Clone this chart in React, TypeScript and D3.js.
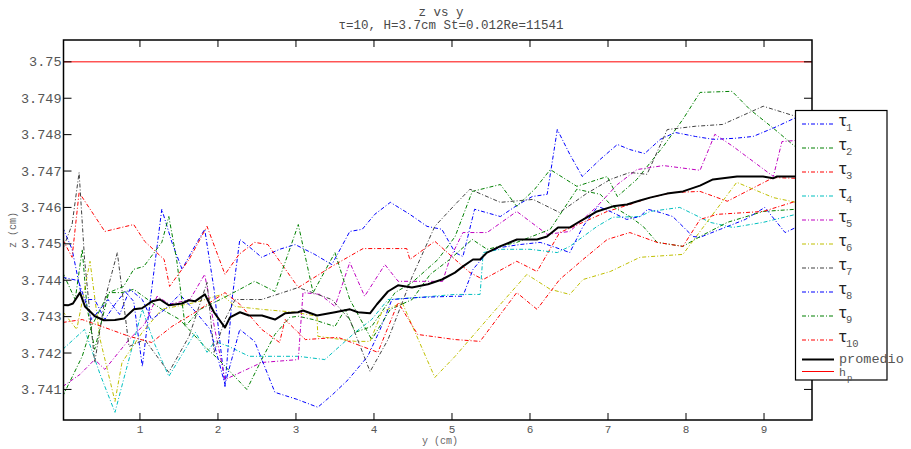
import React from "react";
import * as d3 from "d3";

type Pt = [number, number];

// tau_1 .. tau_10 : z (cm) against y (cm)
const tau1: Pt[] = [[0.01,3.74545],[0.13,3.74485],[0.26,3.74347],[0.42,3.74347],[0.55,3.74292],[0.68,3.74334],[0.81,3.74369],[0.92,3.74342],[1.03,3.74163],[1.15,3.74375],[1.28,3.74595],[1.41,3.74504],[1.54,3.7443],[1.68,3.74485],[1.83,3.7454],[1.95,3.74375],[2.09,3.74108],[2.18,3.74347],[2.28,3.74512],[2.41,3.7449],[2.56,3.74463],[2.79,3.74485],[2.99,3.74498],[3.24,3.74471],[3.46,3.74443],[3.69,3.74534],[3.85,3.7454],[4.01,3.74581],[4.21,3.74614],[4.46,3.74581],[4.68,3.74548],[4.87,3.7454],[5.04,3.74476],[5.14,3.74465],[5.29,3.74595],[5.62,3.74575],[5.85,3.74608],[6.03,3.7463],[6.22,3.74636],[6.35,3.74814],[6.51,3.74746],[6.67,3.74685],[6.9,3.74732],[7.12,3.74773],[7.28,3.74759],[7.47,3.74748],[7.67,3.74787],[7.86,3.74806],[8.12,3.74795],[8.35,3.74787],[8.63,3.7479],[8.86,3.74795],[9.14,3.7482],[9.41,3.74847],[9.62,3.74864]];
const tau2: Pt[] = [[0.01,3.74421],[0.17,3.74347],[0.26,3.74485],[0.32,3.74328],[0.42,3.7421],[0.6,3.74366],[0.77,3.74366],[0.92,3.74375],[1.1,3.74347],[1.28,3.7432],[1.51,3.74292],[1.83,3.74218],[2.01,3.74182],[2.19,3.74141],[2.37,3.741],[2.56,3.74182],[2.73,3.74251],[2.92,3.74298],[3.03,3.74301],[3.22,3.74292],[3.5,3.74273],[3.63,3.7432],[3.76,3.74257],[3.97,3.74273],[4.27,3.74366],[4.49,3.74394],[4.82,3.74457],[5.04,3.7452],[5.26,3.74644],[5.62,3.74663],[5.83,3.74603],[6.06,3.7465],[6.26,3.74704],[6.6,3.74658],[6.99,3.74685],[7.12,3.7463],[7.37,3.74677],[7.71,3.74768],[7.96,3.74842],[8.18,3.74916],[8.59,3.74919],[8.82,3.74869],[9.14,3.74814],[9.41,3.74765],[9.62,3.74746]];
const tau3: Pt[] = [[0.01,3.74512],[0.13,3.74463],[0.22,3.74641],[0.55,3.74534],[0.92,3.74553],[1.06,3.74507],[1.31,3.74457],[1.38,3.74383],[1.63,3.74457],[1.86,3.74548],[2.09,3.74416],[2.27,3.74471],[2.47,3.74504],[2.64,3.74498],[3.03,3.7438],[3.46,3.74438],[3.86,3.74487],[4.42,3.74487],[4.46,3.74457],[4.78,3.74507],[5.04,3.74457],[5.23,3.74421],[5.4,3.74402],[5.83,3.74452],[6.09,3.74424],[6.38,3.74531],[6.68,3.74559],[6.99,3.74589],[7.28,3.74608],[7.54,3.74627],[7.83,3.74641],[8.18,3.74644],[8.53,3.74617],[9.12,3.74682],[9.41,3.7468],[9.62,3.74677]];
const tau4: Pt[] = [[0.01,3.7421],[0.29,3.74265],[0.49,3.74141],[0.68,3.74037],[0.79,3.74127],[1.03,3.7432],[1.19,3.74224],[1.37,3.74136],[1.54,3.74196],[1.71,3.74257],[1.86,3.74202],[1.96,3.74232],[2.14,3.74218],[2.4,3.74191],[2.56,3.74191],[3.03,3.74191],[3.37,3.74182],[3.76,3.74257],[3.97,3.74292],[4.18,3.74347],[4.59,3.74353],[5.04,3.74361],[5.36,3.74361],[5.4,3.74476],[5.62,3.74485],[6.0,3.74485],[6.35,3.74476],[6.51,3.74493],[6.86,3.74548],[7.06,3.74573],[7.41,3.74575],[7.54,3.74589],[7.92,3.746],[8.31,3.74559],[8.6,3.74545],[8.99,3.74559],[9.41,3.74581],[9.62,3.74589]];
const tau5: Pt[] = [[0.01,3.74108],[0.23,3.74141],[0.42,3.74182],[0.55,3.74155],[0.86,3.74237],[1.06,3.74279],[1.22,3.74356],[1.38,3.74334],[1.64,3.74347],[1.83,3.74416],[1.96,3.74265],[2.09,3.74127],[2.56,3.74174],[3.03,3.74182],[3.09,3.74366],[3.31,3.74361],[3.5,3.74328],[3.69,3.74449],[3.88,3.74356],[4.14,3.74443],[4.31,3.74397],[4.88,3.74397],[4.97,3.74457],[5.14,3.74531],[5.45,3.74531],[5.83,3.74589],[6.22,3.74526],[6.51,3.74534],[6.86,3.74603],[7.12,3.74663],[7.37,3.74704],[7.71,3.74715],[8.18,3.74702],[8.37,3.74801],[8.6,3.74768],[9.12,3.74685],[9.23,3.74781],[9.41,3.74784],[9.62,3.74787]];
const tau6: Pt[] = [[0.01,3.74314],[0.19,3.74265],[0.36,3.74452],[0.49,3.74237],[0.68,3.74067],[0.77,3.74174],[1.03,3.74257],[1.28,3.7432],[1.71,3.74339],[2.05,3.74361],[2.22,3.74328],[2.56,3.7432],[2.99,3.74312],[3.27,3.74301],[3.28,3.74246],[3.76,3.74232],[3.95,3.74232],[4.1,3.74312],[4.36,3.74339],[4.78,3.74133],[5.04,3.74191],[5.53,3.74312],[5.96,3.74416],[6.26,3.74375],[6.51,3.74361],[6.68,3.74402],[7.03,3.74424],[7.41,3.74463],[7.96,3.74471],[8.65,3.74669],[9.12,3.74627],[9.41,3.74614],[9.62,3.74605]];
const tau7: Pt[] = [[0.01,3.74485],[0.13,3.74553],[0.22,3.74696],[0.29,3.74457],[0.42,3.74174],[0.55,3.74347],[0.71,3.74476],[0.86,3.74218],[1.06,3.74237],[1.37,3.74147],[1.63,3.74246],[1.86,3.74394],[1.95,3.74202],[2.09,3.74292],[2.22,3.74347],[2.56,3.74347],[3.03,3.7438],[3.46,3.74347],[3.69,3.74292],[3.95,3.74149],[4.18,3.74237],[4.49,3.7441],[4.78,3.74548],[5.04,3.74608],[5.23,3.7465],[5.62,3.74614],[6.04,3.74622],[6.38,3.74586],[6.71,3.74636],[7.03,3.74677],[7.28,3.74696],[7.5,3.74691],[7.76,3.74814],[8.12,3.74823],[8.47,3.74828],[8.99,3.74878],[9.41,3.7485],[9.62,3.74842]];
const tau8: Pt[] = [[0.01,3.74408],[0.21,3.74399],[0.38,3.74292],[0.59,3.74347],[0.74,3.74306],[0.87,3.74375],[1.03,3.74347],[1.15,3.74292],[1.32,3.7432],[1.51,3.74361],[1.71,3.74314],[1.9,3.74265],[2.09,3.74114],[2.28,3.74265],[2.47,3.74232],[2.73,3.74092],[3.01,3.74073],[3.28,3.74051],[3.47,3.74086],[3.67,3.74127],[3.92,3.74191],[4.08,3.74265],[4.23,3.74347],[4.59,3.74353],[5.04,3.74356],[5.14,3.74356],[5.27,3.7443],[5.45,3.74476],[5.62,3.7449],[5.87,3.74498],[6.13,3.74504],[6.29,3.74493],[6.51,3.74476],[6.68,3.74548],[6.87,3.74603],[7.06,3.74586],[7.24,3.74567],[7.41,3.74575],[7.51,3.74595],[7.67,3.74586],[7.83,3.74575],[8.09,3.7452],[8.18,3.74518],[8.44,3.7454],[8.76,3.74567],[9.01,3.746],[9.27,3.74531],[9.41,3.74545],[9.62,3.74562]];
const tau9: Pt[] = [[0.01,3.74081],[0.26,3.74191],[0.38,3.74273],[0.6,3.74366],[0.79,3.74383],[0.92,3.7443],[1.05,3.74438],[1.28,3.74504],[1.37,3.74575],[1.47,3.74457],[1.58,3.74273],[1.77,3.7432],[2.03,3.74347],[2.28,3.74375],[2.47,3.74397],[2.73,3.74369],[3.03,3.74553],[3.22,3.74366],[3.5,3.74476],[3.69,3.74347],[3.97,3.74237],[4.21,3.7432],[4.49,3.74347],[4.72,3.74416],[4.97,3.74457],[5.26,3.74512],[5.45,3.74485],[5.83,3.74504],[6.26,3.7454],[6.6,3.7465],[6.9,3.74636],[7.06,3.74603],[7.28,3.74575],[7.45,3.74548],[7.63,3.74504],[7.96,3.74493],[8.18,3.7452],[8.53,3.74559],[8.99,3.74589],[9.41,3.74595],[9.62,3.746]];
const tau10: Pt[] = [[0.01,3.74284],[0.26,3.74292],[0.55,3.7427],[0.86,3.74246],[1.15,3.74229],[1.41,3.74273],[1.71,3.74312],[2.09,3.74366],[2.28,3.74334],[2.56,3.74265],[2.79,3.74229],[2.86,3.74292],[3.12,3.74237],[3.54,3.74243],[4.05,3.74202],[4.31,3.74339],[4.56,3.74251],[5.04,3.74237],[5.36,3.74232],[5.83,3.74366],[6.09,3.7432],[6.38,3.74402],[6.68,3.74457],[6.99,3.74512],[7.28,3.74531],[7.63,3.74504],[7.96,3.74493],[8.18,3.74567],[8.4,3.74581],[8.99,3.74589],[9.41,3.74617],[9.62,3.74627]];

// mean profile
const promedio: Pt[] = [[0.013,3.74332],[0.077,3.74331],[0.141,3.74336],[0.231,3.74366],[0.295,3.74328],[0.423,3.74301],[0.538,3.7429],[0.679,3.74291],[0.795,3.74295],[0.923,3.7432],[1.026,3.74323],[1.154,3.74342],[1.256,3.74347],[1.372,3.74331],[1.538,3.74336],[1.628,3.74345],[1.705,3.74342],[1.833,3.74361],[1.949,3.74312],[2.09,3.7427],[2.154,3.74298],[2.282,3.74312],[2.397,3.74303],[2.564,3.74303],[2.731,3.74292],[2.859,3.74309],[3.026,3.74312],[3.09,3.74317],[3.269,3.74303],[3.5,3.74312],[3.692,3.7432],[3.795,3.74312],[3.949,3.74309],[4.038,3.74334],[4.179,3.74369],[4.308,3.74386],[4.487,3.7438],[4.692,3.74389],[4.872,3.74402],[5.038,3.74421],[5.141,3.74438],[5.269,3.74457],[5.359,3.74457],[5.449,3.74476],[5.615,3.74493],[5.833,3.74512],[6.09,3.74512],[6.218,3.7452],[6.359,3.74545],[6.513,3.74545],[6.641,3.74562],[6.859,3.74589],[7.064,3.74603],[7.244,3.74608],[7.41,3.74619],[7.538,3.74627],[7.756,3.74638],[7.962,3.74644],[8.179,3.7466],[8.346,3.74677],[8.474,3.7468],[8.654,3.74685],[8.987,3.74685],[9.115,3.7468],[9.167,3.74685],[9.615,3.74685]];

const hp = 3.75;

const xTicks = [1, 2, 3, 4, 5, 6, 7, 8, 9];
const yTicks = [3.741, 3.742, 3.743, 3.744, 3.745, 3.746, 3.747, 3.748, 3.749, 3.75];
const tauLabels = ["1", "2", "3", "4", "5", "6", "7", "8", "9", "10"];
const titleText = "z vs y";
const subtitleText = "τ=10, H=3.7cm St=0.012Re=11541";

const taus = [tau1, tau2, tau3, tau4, tau5, tau6, tau7, tau8, tau9, tau10];
const tauColors = ["#0000ff", "#008000", "#ff0000", "#00bfbf", "#bf00bf", "#bfbf00", "#404040", "#0000ff", "#008000", "#ff0000"];

const W = 911;
const H = 449;
const box = { left: 63.5, right: 812, top: 40, bottom: 420 };
const mono = "'Liberation Mono', 'DejaVu Sans Mono', monospace";
const dash = "4,2,1,2";

export default function App() {
  const x = d3.scaleLinear().domain([0.02, 9.615]).range([box.left, box.right]);
  const y = d3.scaleLinear().domain([3.74016, 3.7506]).range([box.bottom, box.top]);
  const line = d3.line<Pt>().x(d => x(d[0])).y(d => y(d[1]));

  const leg = { left: 795.5, top: 110.5, width: 91.5, height: 269.5 };
  const rowY = (i: number) => 124 + i * 24;

  return (
    <svg width={W} height={H} style={{ position: "absolute", left: 0, top: 0, background: "#fff" }}>
      <rect x={0} y={0} width={W} height={H} fill="#fff" />
      <defs>
        <clipPath id="plotclip">
          <rect x={box.left} y={box.top} width={box.right - box.left} height={box.bottom - box.top} />
        </clipPath>
      </defs>

      <text x={441} y={16} textAnchor="middle" fontFamily={mono} fontSize={12.5} fill="#4a4a4a">{titleText}</text>
      <text x={451} y={29} textAnchor="middle" fontFamily={mono} fontSize={12.5} fill="#4a4a4a">{subtitleText}</text>

      <g clipPath="url(#plotclip)">
        {taus.map((d, i) => (
          <path key={i} d={line(d) || ""} fill="none" stroke={tauColors[i]} strokeWidth={1} strokeDasharray={dash} />
        ))}
        <path d={line(promedio) || ""} fill="none" stroke="#000" strokeWidth={2} strokeLinejoin="round" />
        <line x1={box.left} x2={box.right} y1={y(hp)} y2={y(hp)} stroke="#ff0000" strokeWidth={1} />
      </g>

      {/* ticks */}
      {yTicks.map(t => (
        <g key={"y" + t}>
          <line x1={box.left} x2={box.left + 8} y1={y(t)} y2={y(t)} stroke="#000" />
          <line x1={box.right - 8} x2={box.right} y1={y(t)} y2={y(t)} stroke="#000" />
          <text x={61.5} y={y(t) + 4.5} textAnchor="end" fontFamily={mono} fontSize={13.5} fill="#555">{String(+t.toFixed(3))}</text>
        </g>
      ))}
      {xTicks.map(t => (
        <g key={"x" + t}>
          <line x1={x(t)} x2={x(t)} y1={box.bottom} y2={box.bottom - 7} stroke="#000" />
          <line x1={x(t)} x2={x(t)} y1={box.top} y2={box.top + 7} stroke="#000" />
          <text x={x(t)} y={433} textAnchor="middle" fontFamily={mono} fontSize={11} fill="#555">{t}</text>
        </g>
      ))}
      <rect x={box.left} y={box.top} width={box.right - box.left} height={box.bottom - box.top} fill="none" stroke="#000" strokeWidth={1.5} />

      <text x={440} y={444} textAnchor="middle" fontFamily={mono} fontSize={10} fill="#666">y (cm)</text>
      <text transform={`translate(16,230) rotate(-90)`} textAnchor="middle" fontFamily={mono} fontSize={10} fill="#666">z (cm)</text>

      {/* legend */}
      <rect x={leg.left} y={leg.top} width={leg.width} height={leg.height} fill="#fff" stroke="#000" strokeWidth={1.2} />
      {tauLabels.map((lab, i) => (
        <g key={"l" + lab}>
          <line x1={802} x2={834} y1={rowY(i)} y2={rowY(i)} stroke={tauColors[i]} strokeWidth={1.2} strokeDasharray={dash} />
          <text x={838} y={rowY(i) + 2} fontFamily={mono} fontSize={16} fill="#222">τ</text>
          <text x={846} y={rowY(i) + 7} fontFamily={mono} fontSize={10.5} fill="#555">{lab}</text>
        </g>
      ))}
      <line x1={802} x2={834} y1={359.5} y2={359.5} stroke="#000" strokeWidth={2} />
      <text x={839} y={363} fontFamily={mono} fontSize={13.5} fill="#555">promedio</text>
      <line x1={802} x2={834} y1={371.5} y2={371.5} stroke="#ff0000" strokeWidth={1} />
      <text x={839} y={375.5} fontFamily={mono} fontSize={11.5} fill="#555">h</text>
      <text x={847} y={381} fontFamily={mono} fontSize={9} fill="#555">p</text>
    </svg>
  );
}
